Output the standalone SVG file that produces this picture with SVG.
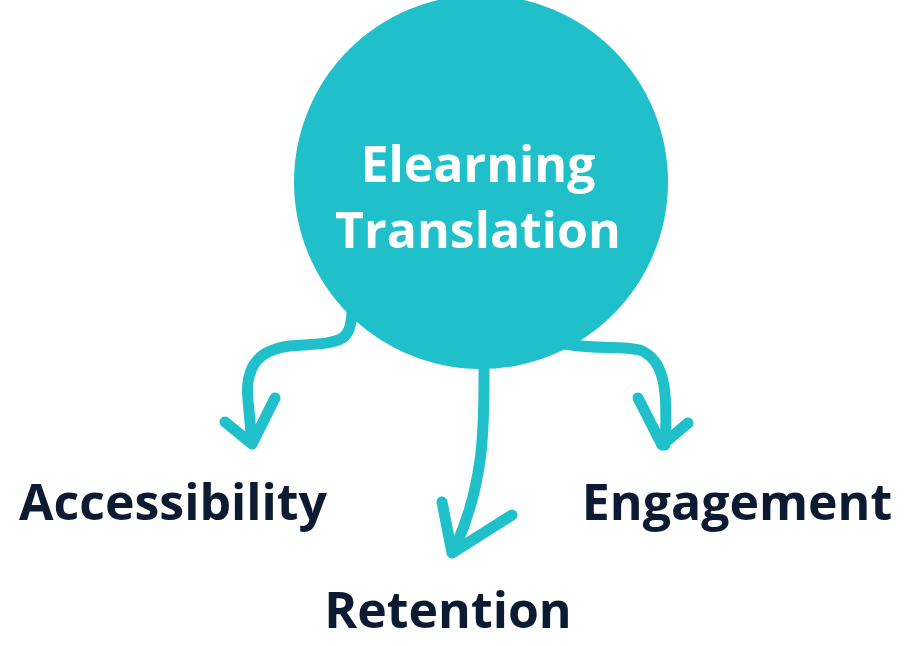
<svg xmlns="http://www.w3.org/2000/svg" width="911" height="646" viewBox="0 0 911 646">
<style>
.c{fill:none;stroke:#20c0cb;stroke-width:11;stroke-linecap:round;stroke-linejoin:round}
.t{font-family:"Open Sans",sans-serif;font-weight:bold;font-size:50px;fill:#0c1b32;text-anchor:middle}
.w{font-family:"Open Sans",sans-serif;font-weight:bold;font-size:50px;fill:#fff;text-anchor:middle}
</style>
<g id="connectors">
<path class="c" d="M352,312 C350,345 340,342 290,346 C255,350 245,370 248,400 L252,444 M225,422 L252,444 L275,398"/>
<path class="c" d="M484,362 C484,420 486,480 455,548 M442,502 L452,553 L512,515"/>
<path class="c" d="M565,344 C600,350 620,345 640,350 C665,360 668,390 665,445 M638,398 L662,445 L688,423"/>
</g>
<g id="center"><circle cx="481" cy="182" r="187" fill="#20c0cb"/>
<text class="w" x="478" y="182">Elearning</text><text class="w" x="478" y="248">Translation</text></g>
<g id="accessibility"><text class="t" x="173" y="520">Accessibility</text></g>
<g id="engagement"><text class="t" x="737" y="520">Engagement</text></g>
<g id="retention"><text class="t" x="448" y="628">Retention</text></g>
</svg>
